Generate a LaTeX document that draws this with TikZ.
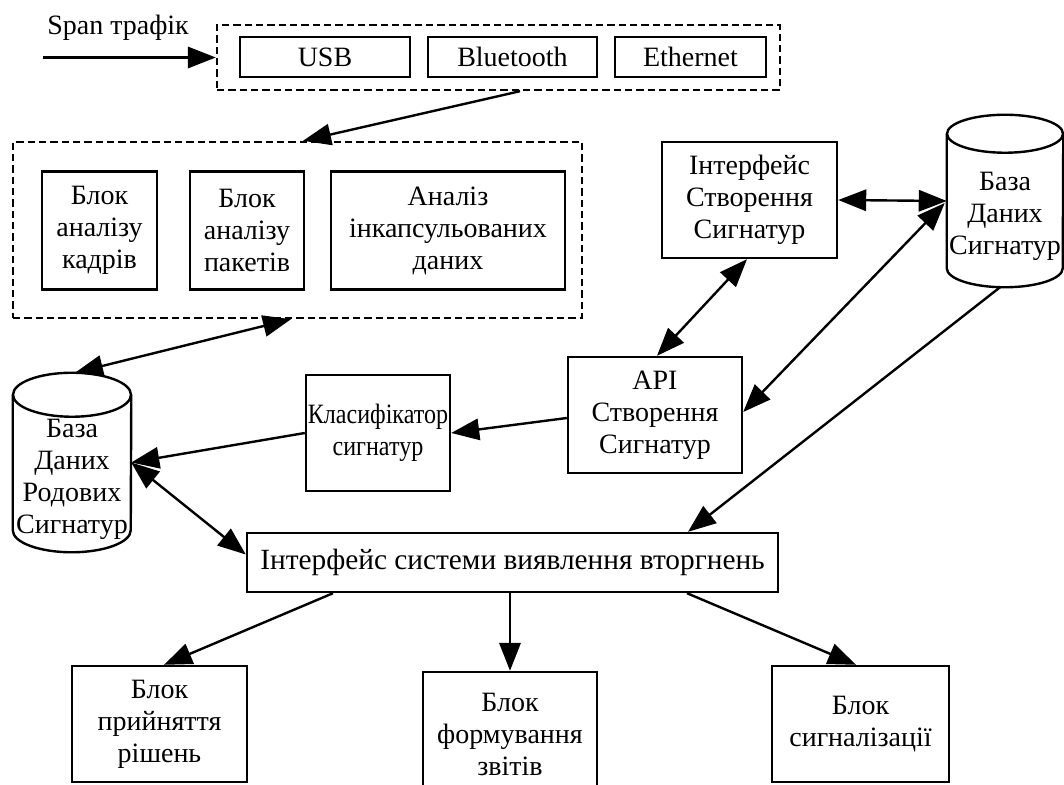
\documentclass[tikz,border=0pt]{standalone}
\usepackage{fontspec}
\setmainfont{Liberation Serif}
\newfontfamily\narrowserif{Liberation Serif}[FakeStretch=0.86]
\usetikzlibrary{arrows.meta}

\begin{document}
\begin{tikzpicture}[x=0.75pt,y=-0.75pt,
  ln/.style={line width=1.8pt},
  txt/.style={align=center,inner sep=0pt,font=\fontsize{21}{24}\selectfont},
  box/.style={ln,draw,txt},
  dbox/.style={line width=1.8pt,draw,dash pattern=on 5.5pt off 3pt},
  body/.style={inner sep=0pt},
  sz/.style 2 args={minimum width=#1*0.75pt,minimum height=#2*0.75pt},
  tip/.style={Triangle[length=21pt,width=16pt]},
  arr/.style={ln,-{Triangle[length=21pt,width=16pt]}},
  biarr/.style={ln,{Triangle[length=21pt,width=16pt]}-{Triangle[length=21pt,width=16pt]}}]
\useasboundingbox (0,0) rectangle (1064,785);
\clip (0,0) rectangle (1064,785);

% traffic input
\node[txt,anchor=base west] (span) at (47,34) {Span трафік};
\coordinate (in) at (43,57.5);

% interfaces
\node[dbox,sz={563}{65}] (dash1) at (498.5,57.5) {};
\node[box,sz={170}{40}] (usb) at (325,57) {USB};
\node[box,sz={169}{40}] (bt) at (512.5,57) {Bluetooth};
\node[box,sz={151}{40}] (eth) at (690.5,57) {Ethernet};

% analysis blocks
\node[dbox,sz={569}{176}] (dash2) at (297.5,230) {};
\node[box,sz={115}{118}] (kadr) at (99.5,230.5) {Блок\\аналізу\\кадрів};
\node[box,sz={114}{118}] (paket) at (247,230.5) {Блок\\аналізу\\пакетів};
\node[box,sz={234}{118}] (inkap) at (448,230.5) {Аналіз\\інкапсульованих\\даних};

% signature creation
\node[box,sz={175}{116}] (ics) at (749.5,200) {Інтерфейс\\Створення\\Сигнатур};
\node[box,sz={174}{116}] (api) at (655,415) {API\\Створення\\Сигнатур};
\node[box,sz={144}{116},font=\narrowserif\fontsize{21}{24}\selectfont] (cls) at (378,433) {Класифікатор\\сигнатур};

% signature databases
\node[body,sz={116}{172}] (dbs) at (1005,201) {};
\draw[ln] ([shift={(0,19)}]dbs.north) ellipse [x radius=58, y radius=19];
\draw[ln] ([shift={(0,19)}]dbs.north west) -- ([shift={(0,-19)}]dbs.south west)
  arc[start angle=180, end angle=0, x radius=58, y radius=19]
  -- ([shift={(0,19)}]dbs.north east);
\node[txt] at (1005,216) {База\\Даних\\Сигнатур};

\node[body,sz={118}{179}] (dbr) at (72,462.5) {};
\draw[ln] ([shift={(0,22)}]dbr.north) ellipse [x radius=59, y radius=22];
\draw[ln] ([shift={(0,22)}]dbr.north west) -- ([shift={(0,-22)}]dbr.south west)
  arc[start angle=180, end angle=0, x radius=59, y radius=22]
  -- ([shift={(0,22)}]dbr.north east);
\node[txt] at (72,479) {База\\Даних\\Родових\\Сигнатур};

% intrusion detection interface and output blocks
\node[box,sz={531}{59},font=\fontsize{22}{24}\selectfont] (isv) at (512.5,562.5) {Інтерфейс системи виявлення вторгнень};
\node[box,sz={175}{116}] (bp) at (159.5,724) {Блок\\прийняття\\рішень};
\node[box,sz={174}{124}] (bf) at (510,734) {Блок\\формування\\звітів};
\node[box,sz={177}{116}] (bs) at (860.5,724) {Блок\\сигналізації};

% connectors
\draw[arr] (in) -- (dash1.west);
\draw[arr] ([shift={(21.5,0)}]dash1.south) -- ([shift={(5.5,0)}]dash2.north);
\draw[biarr] ([shift={(-6.5,0)}]dash2.south) -- ([shift={(3,0)}]dbr.north);
\draw[arr] (cls.west) -- (dbr.east);
\draw[arr] ([shift={(0,3)}]api.west) -- (cls.east);
\draw[biarr] (dbr.east) -- ([shift={(0,-8)}]isv.west);
\draw[biarr] (ics.east) -- (dbs.west);
\draw[biarr] ([shift={(-2.5,0)}]ics.south) -- ([shift={(2,0)}]api.north);
\draw[biarr] ([shift={(0,-3)}]api.east) -- ([shift={(-2,2)}]dbs.west);
\draw[arr] ([shift={(-5,0)}]dbs.south) -- ([shift={(175.5,0)}]isv.north);
\draw[arr] ([shift={(-179.5,0)}]isv.south) -- ([shift={(4.5,0)}]bp.north);
\draw[arr] ([shift={(-2.5,0)}]isv.south) -- (bf.north);
\draw[arr] ([shift={(174.5,0)}]isv.south) -- ([shift={(-4.5,0)}]bs.north);
\end{tikzpicture}
\end{document}
